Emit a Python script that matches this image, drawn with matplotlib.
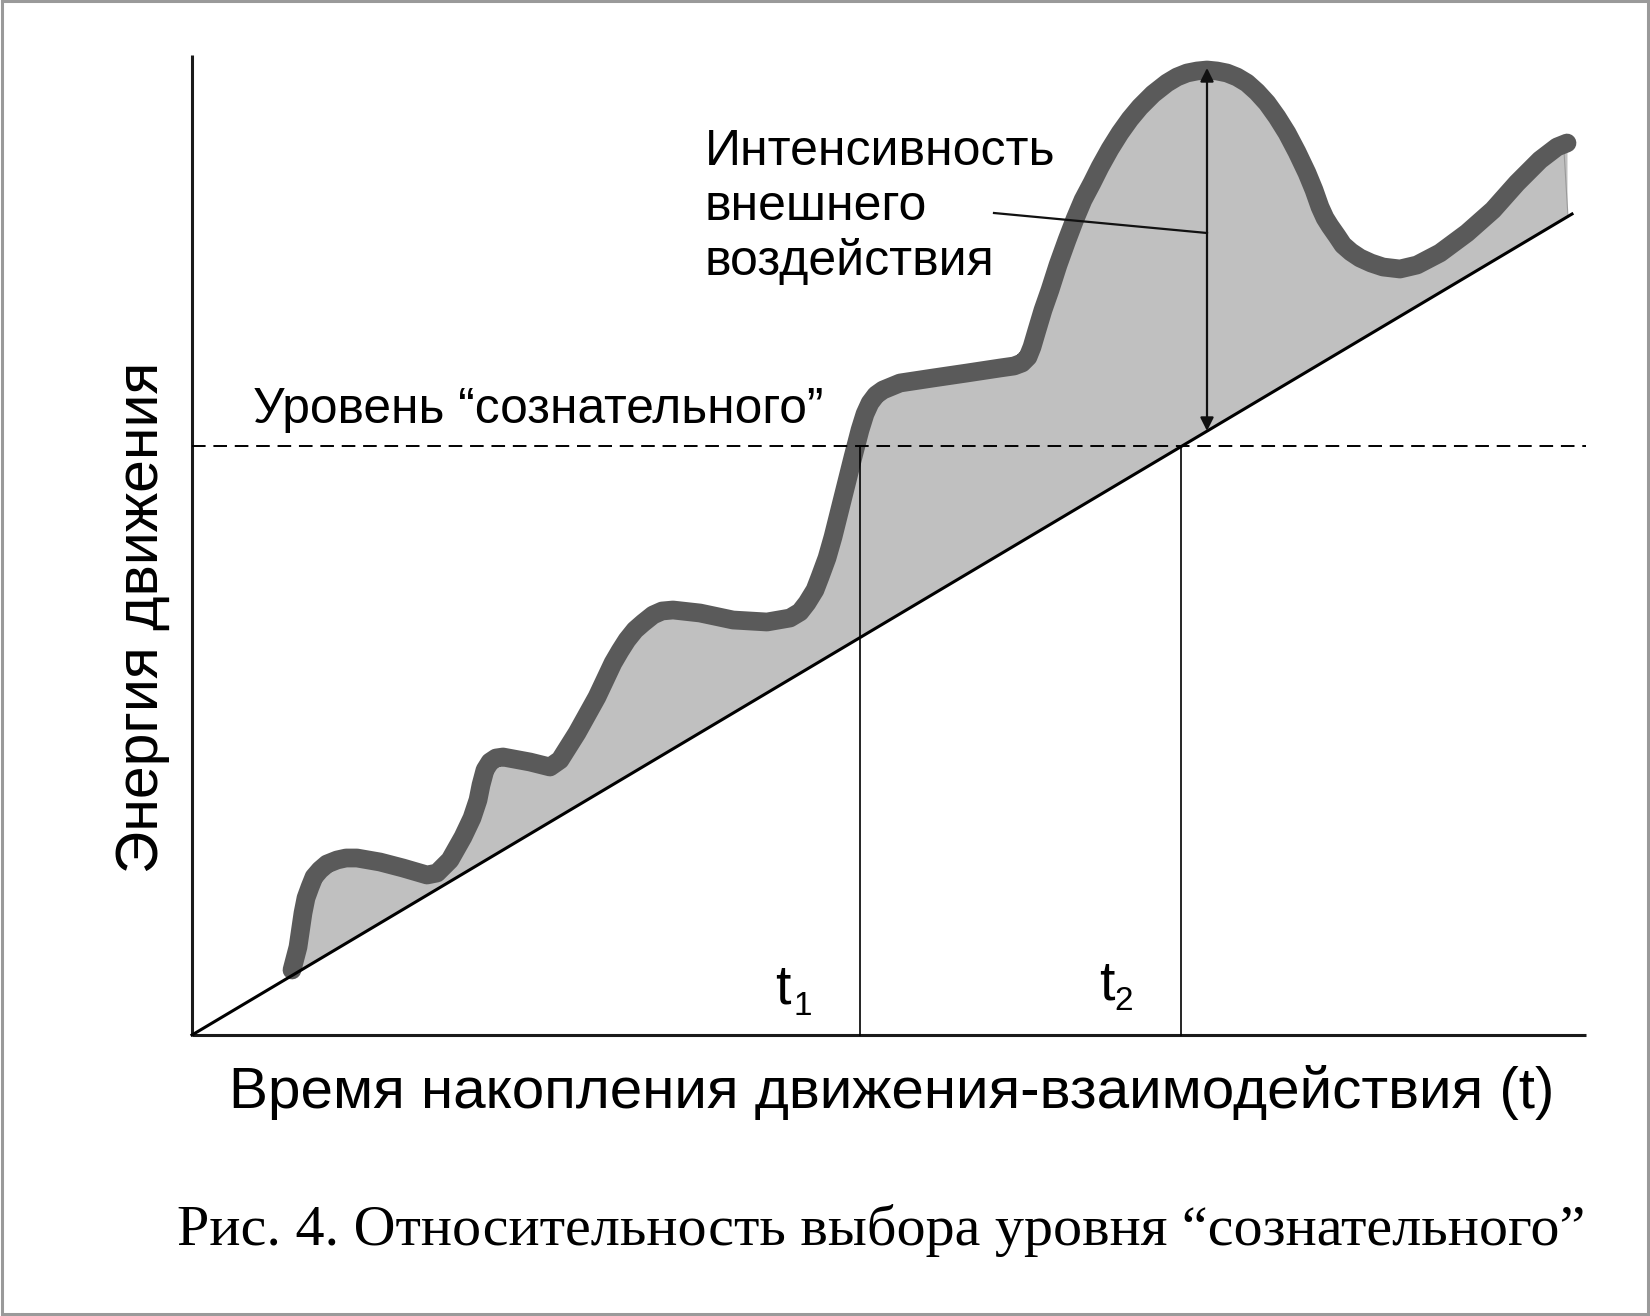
# -*- coding:utf-8 -*-
import matplotlib
matplotlib.use('Agg')
import matplotlib.pyplot as plt
import numpy as np

plt.rcParams['font.family'] = ['Liberation Sans', 'DejaVu Sans']

# canvas is laid out in pixel units (1650 x 1316), y grows downward
W, H = 1650, 1316

# origin and end of the axes
x0, y0 = 192, 1035
x_end = 1586
y_top = 55

# linear trend (base line)
base_x = [192, 1572]
base_y = [1035, 214]

# level of "conscious"
level_y = 446
t1_x = 860
t2_x = 1181

# curve of movement energy
curve_x = [292, 298, 303, 306, 310, 314, 320, 327, 337, 346, 357, 380, 403, 427,
           437, 450, 463, 472, 478, 481, 485, 490, 496, 503, 530, 550, 560, 577,
           597, 613, 620, 627, 635, 643, 653, 662, 673, 700, 733, 767, 790, 800,
           807, 815, 820, 827, 833, 843, 853, 860, 865, 870, 876, 883, 900, 933,
           967, 1000, 1014, 1022, 1028, 1032, 1037, 1043, 1050, 1058, 1067, 1075,
           1083, 1092, 1100, 1110, 1120, 1130, 1140, 1153, 1167, 1177, 1187, 1197,
           1207, 1217, 1227, 1237, 1247, 1257, 1267, 1277, 1287, 1297, 1307, 1314,
           1320, 1325, 1330, 1337, 1343, 1351, 1360, 1371, 1383, 1400, 1417, 1440,
           1467, 1493, 1517, 1540, 1557, 1567]
curve_y = [970, 947, 913, 898, 887, 877, 870, 864, 860, 858, 858, 862, 868, 875,
           873, 860, 837, 818, 800, 785, 770, 762, 758, 757, 762, 767, 760, 733,
           697, 663, 651, 640, 630, 623, 615, 611, 610, 613, 620, 622, 618, 612,
           603, 590, 577, 558, 537, 497, 457, 430, 414, 403, 395, 390, 383, 378,
           373, 368, 366, 363, 357, 347, 330, 310, 290, 265, 240, 219,
           200, 183, 167, 149, 133, 119, 107, 94, 83, 77, 73, 71,
           70, 71, 73, 77, 83, 92, 103, 117, 133, 152, 173, 190,
           207, 218, 226, 236, 245, 252, 258, 263, 267, 269, 265, 253,
           233, 210, 183, 160, 147, 143]

# arrow of the external influence
arrow_x = 1207
arrow_top, arrow_bottom = 68, 431
leader_x = [994, 1207]
leader_y = [213, 233]

fig = plt.figure(figsize=(W / 100, H / 100), dpi=100)
ax = fig.add_axes([0, 0, 1, 1])
ax.set_xlim(0, W)
ax.set_ylim(H, 0)
ax.axis('off')

# frame of the picture
ax.plot([2, W - 2, W - 2, 2, 2], [1, 1, H - 2, H - 2, 1], color='#9a9a9a', lw=2.2,
        solid_joinstyle='miter')

cx = np.array(curve_x, dtype=float)
cy = np.array(curve_y, dtype=float)
slope = (base_y[1] - base_y[0]) / (base_x[1] - base_x[0])
by = base_y[0] + slope * (cx - base_x[0])
ax.fill_between(cx, cy, by, color='#c0c0c0', lw=0, zorder=1)
ax.plot([cx[-1] - 3, cx[-1] + 1], [cy[-1] + 8, by[-1]], color='#9a9a9a', lw=0.8, zorder=1)

# axes
ax.plot([x0, x0], [y_top, y0], color='#1a1a1a', lw=2.2, solid_capstyle='butt', zorder=3)
ax.plot([x0, x_end], [y0, y0], color='#1a1a1a', lw=2.2, solid_capstyle='butt', zorder=3)

ax.plot(base_x, base_y, color='black', lw=2.2, zorder=3)
ax.plot([x0, x_end], [level_y, level_y], color='black', lw=1.4, ls=(0, (7, 4)), zorder=3)
ax.plot([t1_x, t1_x], [level_y, y0], color='black', lw=1.2, zorder=3)
ax.plot([t2_x, t2_x], [level_y, y0], color='black', lw=1.2, zorder=3)

ax.plot(cx, cy, color='#5a5a5a', lw=13.5, solid_capstyle='round',
        solid_joinstyle='round', zorder=2)

ax.annotate('', xy=(arrow_x, arrow_top), xytext=(arrow_x, arrow_bottom),
            arrowprops=dict(arrowstyle='<|-|>', color='#111111', lw=1.6,
                            mutation_scale=20, shrinkA=0, shrinkB=0), zorder=4)
ax.plot(leader_x, leader_y, color='#111111', lw=1.6, zorder=4)

# texts
ax.text(705, 165, 'Интенсивность', fontsize=36, ha='left', va='baseline')
ax.text(705, 220, 'внешнего', fontsize=36, ha='left', va='baseline')
ax.text(705, 275, 'воздействия', fontsize=36, ha='left', va='baseline')
ax.text(253, 423, 'Уровень “сознательного”', fontsize=35.7, ha='left', va='baseline')

ax.text(775, 1003, 't', fontsize=40, ha='left', va='baseline')
ax.text(793, 1015, '1', fontsize=24, ha='left', va='baseline')
ax.text(1099, 1000, 't', fontsize=40, ha='left', va='baseline')
ax.text(1114, 1010, '2', fontsize=24, ha='left', va='baseline')

ax.text(229, 1108, 'Время накопления движения-взаимодействия (t)', fontsize=42,
        ha='left', va='baseline')
ax.text(158, 617, 'Энергия движения', fontsize=42.4, rotation=90, rotation_mode='anchor',
        ha='center', va='baseline')
ax.text(177, 1245, 'Рис. 4. Относительность выбора уровня “сознательного”',
        fontsize=41.9, family=['Liberation Serif', 'DejaVu Serif'], ha='left', va='baseline')

fig.savefig('out.png', dpi=100)
